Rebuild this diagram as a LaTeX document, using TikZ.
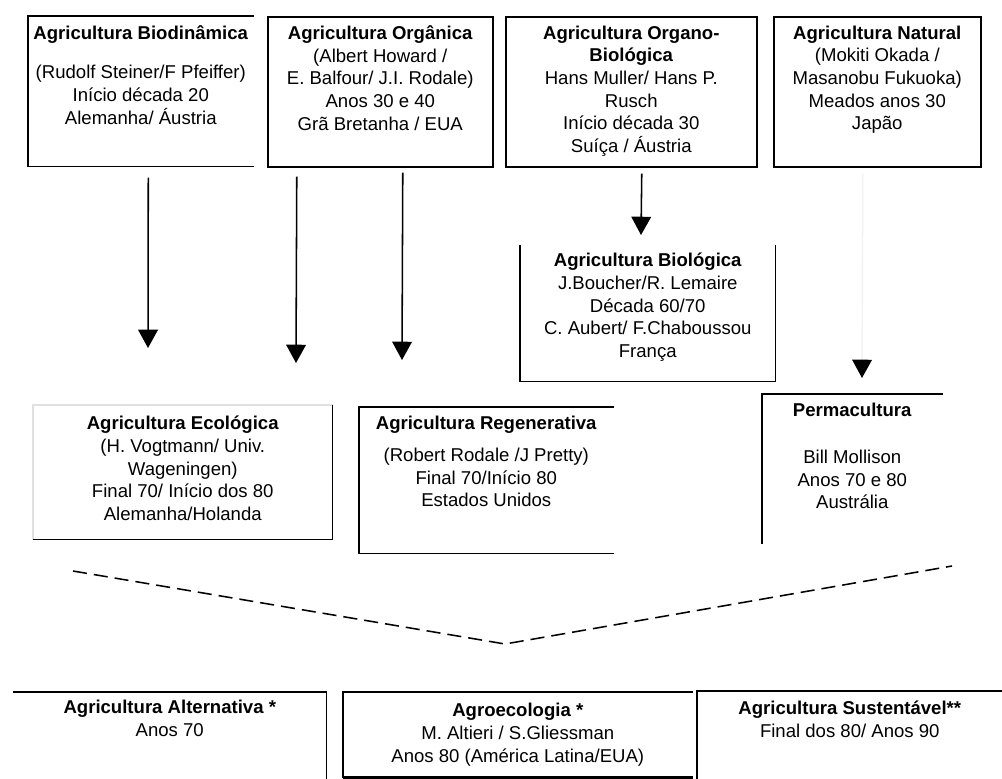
\documentclass[tikz,border=0pt]{standalone}
\usepackage{fontspec}
\setmainfont{Liberation Sans}
\usetikzlibrary{arrows.meta}

\newlength{\unitpx}
\setlength{\unitpx}{0.025cm}
% text block: [top pad]{width}{height}{lines}
\newcommand{\blk}[4][9]{\parbox[c][#3\unitpx][t]{#2\unitpx}{\vspace*{#1\unitpx}\centering #4\par}}

\tikzset{
  block/.style={inner sep=0pt, anchor=north west},
  boxed/.style={block, draw, line width=1.1pt},
  edge/.style={line width=1.1pt},
  faint/.style={line width=1.1pt, draw=black!12},
  arrow/.style={line width=1.1pt, -{Triangle[width=14pt,length=13pt]}},
  faintarrow/.style={line width=1pt, draw=black!5, -{Triangle[width=14pt,length=13pt,color=black]}},
  dashline/.style={line width=1.1pt, dash pattern=on 10pt off 5pt}
}

\begin{document}
\begin{tikzpicture}[x=\unitpx,y=-\unitpx,font=\fontsize{13.2}{16.1}\selectfont]
\useasboundingbox (0,0) rectangle (1002,778);

% first row
\node[block] (bio) at (28,16) {\blk{225}{150}{\textbf{Agricultura Biodinâmica}\\[17\unitpx]
  (Rudolf Steiner/F Pfeiffer)\\ Início década 20\\ Alemanha/ Áustria}};
\draw[edge] (bio.north east) -- (bio.north west) -- (bio.south west) -- (bio.south east);

\node[boxed] (org) at (267,16) {\blk{225}{150}{\textbf{Agricultura Orgânica}\\
  (Albert Howard /\\ E. Balfour/ J.I. Rodale)\\ Anos 30 e 40\\ Grã Bretanha / EUA}};

\node[boxed] (obio) at (505,16) {\blk{251}{150}{\textbf{Agricultura Organo-}\\ \textbf{Biológica}\\
  Hans Muller/ Hans P.\\ Rusch\\ Início década 30\\ Suíça / Áustria}};

\node[boxed] (nat) at (773,16) {\blk{207}{150}{\textbf{Agricultura Natural}\\
  (Mokiti Okada /\\ Masanobu Fukuoka)\\ Meados anos 30\\ Japão}};

% second row
\node[block] (biol) at (520,245) {\blk[8]{255}{136}{\textbf{Agricultura Biológica}\\
  J.Boucher/R. Lemaire\\ Década 60/70\\ C. Aubert/ F.Chaboussou\\ França}};
\draw[edge] (biol.north west) -- (biol.south west) -- (biol.south east) -- (biol.north east);

\node[block] (eco) at (33,405) {\blk[11]{299}{134}{\textbf{Agricultura Ecológica}\\
  (H. Vogtmann/ Univ.\\ Wageningen)\\ Final 70/ Início dos 80\\ Alemanha/Holanda}};
\draw[faint] (eco.south west) -- (eco.north west) -- (eco.north east);
\draw[edge] (eco.north east) -- (eco.south east) -- (eco.south west);

\node[block] (regen) at (359,407) {\blk{254}{146}{\textbf{Agricultura Regenerativa}\\[9\unitpx]
  (Robert Rodale /J Pretty)\\ Final 70/Início 80\\ Estados Unidos}};
\draw[edge] (regen.north east) -- (regen.north west) -- (regen.south west) -- (regen.south east);

\node[block] (perm) at (762,394) {\blk{180}{149}{\textbf{Permacultura}\\[24\unitpx]
  Bill Mollison\\ Anos 70 e 80\\ Austrália}};
\draw[edge] (perm.south west) -- (perm.north west) -- (perm.north east);

% arrows
\coordinate (tipeco) at (148,348);
\coordinate (tipeco2) at (296,363);
\coordinate (tipregen) at (402,360);
\coordinate (tipbiol) at (641,235);
\coordinate (tipperm) at (862,378);
\draw[arrow] ([shift={(7.5,11)}]bio.south) -- (tipeco);
\draw[arrow] ([shift={(-83.5,9)}]org.south) -- (tipeco2);
\draw[arrow] ([shift={(22.5,5)}]org.south) -- (tipregen);
\draw[arrow] ([shift={(10.5,6)}]obio.south) -- (tipbiol);
\draw[faintarrow] ([shift={(-14.5,6)}]nat.south) -- (tipperm);

% dashed V
\coordinate (vleft) at (73,571);
\coordinate (vmid) at (505,644);
\coordinate (vright) at (952,566);
\draw[dashline] (vleft) -- (vmid) -- (vright);

% last row
\node[block] (alt) at (13,692) {\blk[8]{313}{86}{\textbf{Agricultura Alternativa *}\\ Anos 70}};
\draw[edge] (alt.north west) -- (alt.north east) -- (alt.south east);

\node[block] (agro) at (343,692) {\blk[11]{349}{85}{\textbf{Agroecologia *}\\
  M. Altieri / S.Gliessman\\ Anos 80 (América Latina/EUA)}};
\draw[edge] (agro.north east) -- (agro.north west) -- (agro.south west);
\draw[line width=2pt] (agro.south west) -- (agro.south east);

\node[block] (sust) at (697,691) {\blk[10]{305}{87}{\textbf{Agricultura Sustentável**}\\ Final dos 80/ Anos 90}};
\draw[edge] (sust.south west) -- (sust.north west) -- (sust.north east);
\end{tikzpicture}
\end{document}
